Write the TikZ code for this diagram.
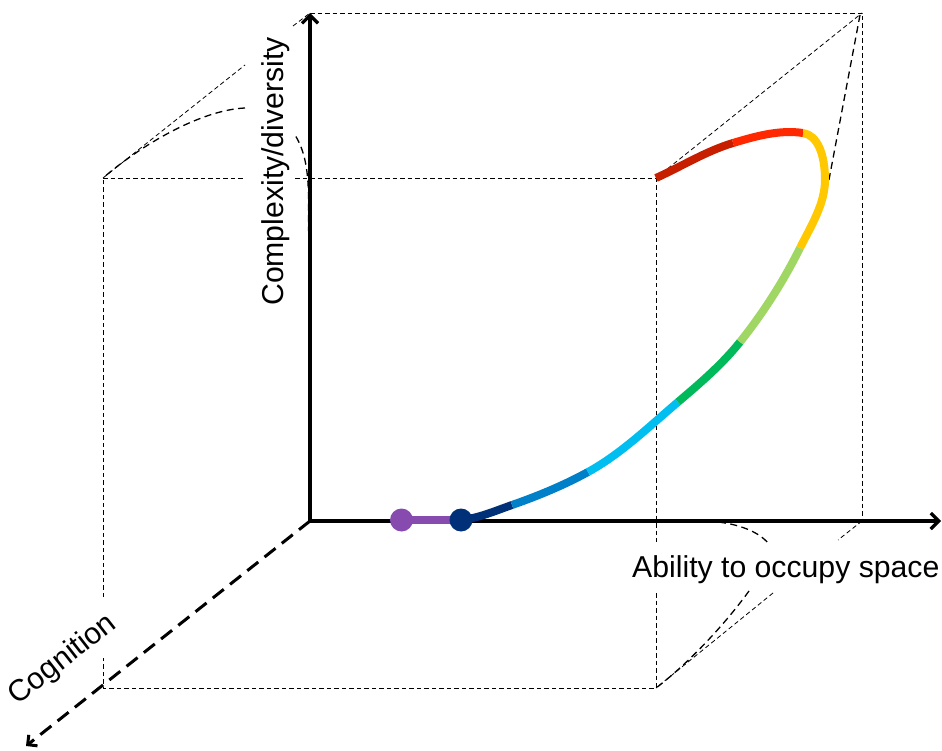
\documentclass[tikz,border=0pt]{standalone}
\usepackage{fontspec}
\setmainfont{Liberation Sans}
\usetikzlibrary{arrows.meta}
\definecolor{cnavy}{RGB}{0,48,120}
\definecolor{cblue}{RGB}{0,128,200}
\definecolor{ccyan}{RGB}{0,190,240}
\definecolor{cgreen}{RGB}{0,185,90}
\definecolor{clgreen}{RGB}{160,215,100}
\definecolor{cyellow}{RGB}{255,200,0}
\definecolor{cred}{RGB}{255,40,0}
\definecolor{cdred}{RGB}{200,30,0}
\definecolor{cpurple}{RGB}{135,75,175}
\begin{document}
\begin{tikzpicture}[x=1pt,y=-1pt,
  thindash/.style={line width=0.8pt, dash pattern=on 4.5pt off 3pt},
  curvedash/.style={line width=1.3pt, dash pattern=on 7pt off 4.5pt},
  axisline/.style={line width=3.2pt, -{Straight Barb[length=8pt,width=16pt]}},
  cogaxis/.style={line width=3pt, dash pattern=on 14pt off 8pt, -{Straight Barb[length=7pt,width=14pt]}},
  seg/.style={line width=8pt},
  dot/.style={circle, inner sep=0pt, minimum size=23pt},
  lbl/.style={font=\fontsize{30.2}{35}\selectfont, inner sep=0pt}]
\useasboundingbox (0,0) rectangle (942,751);
% corners
\coordinate (O) at (310,521);
\coordinate (T) at (310,13);
\coordinate (R) at (941,521);
\coordinate (BTR) at (862,13);
\coordinate (BBR) at (862,521);
\coordinate (FTL) at (103,178);
\coordinate (FTR) at (656,178);
\coordinate (FBL) at (103,688);
\coordinate (FBR) at (656,688);
\coordinate (CE) at (26,746);
% thin dashed box
\draw[thindash] (T) -- (BTR) -- (BBR);
\draw[thindash] (FTL) -- (245,178);
\draw[thindash] (295,178) -- (FTR);
\draw[thindash] (FTR) -- (656,542);
\draw[thindash] (656,593) -- (FBR) -- (FBL) -- (103,658);
\draw[thindash] (103,597) -- (FTL);
\draw[thindash] (FTL) -- (245,65);
\draw[thindash] (293,26) -- (T);
\draw[thindash] (FTR) -- (BTR);
\draw[thindash] (BBR) -- (838,540);
\draw[thindash] (773,593) -- (FBR);
% projected dashed curves
\draw[curvedash] (O) -- (308.5,200) .. controls (308.5,165) and (303,148) .. (295,135);
\draw[curvedash] (245,108) .. controls (200,110) and (140,146) .. (FTL);
\draw[curvedash] (860,15) -- (828,185);
\draw[curvedash] (650,521) -- (705,521) .. controls (735,522) and (758,531) .. (768,543);
\draw[curvedash] (749,591) .. controls (725,624) and (690,662) .. (FBR);
% axes
\draw[axisline] (O) -- (T);
\draw[axisline] (O) -- (R);
\draw[cogaxis] (O) -- (CE);
% main curve
\coordinate (P0) at (461,520);
\coordinate (P1) at (512,505);
\coordinate (P2) at (588,472);
\coordinate (P3) at (678,402);
\coordinate (P4) at (740,342);
\coordinate (P5) at (800,248);
\coordinate (P5m) at (825,180);
\coordinate (P6) at (803,133);
\coordinate (P7) at (733,143);
\coordinate (P8) at (656,178);
\coordinate (PP) at (401.5,520);
\draw[seg, cpurple] (PP) -- (P0);
\draw[seg, cnavy] (P0) .. controls (478.6,518.2) and (495.3,510.8) .. (P1);
\draw[seg, cblue] (P1) .. controls (538,495.9) and (563.8,485.3) .. (P2);
\draw[seg, ccyan] (P2) .. controls (621.3,453.7) and (649,426.6) .. (P3);
\draw[seg, cgreen] (P3) .. controls (699.9,383.4) and (722.1,364.4) .. (P4);
\draw[seg, clgreen] (P4) .. controls (763.2,313) and (783.4,281.3) .. (P5);
\draw[seg, cyellow] (P5) .. controls (810.7,226.5) and (825,204) .. (P5m) .. controls (825,155) and (817.8,135.2) .. (P6);
\draw[seg, cred] (P6) .. controls (779.6,129.5) and (755.6,136.2) .. (P7);
\draw[seg, cdred] (P7) .. controls (706,151.1) and (681.7,166.4) .. (P8);
\node[dot, fill=cpurple] (dp) at (PP) {};
\node[dot, fill=cnavy] (dn) at (P0) {};
% labels
\node[lbl, anchor=base west] (abil) at (632,577) {Ability to occupy space};
\node[lbl, rotate=90, anchor=base west] (cplx) at (283,306) {Complexity/diversity};
\node[lbl, rotate=38] (cog) at (63,660) {Cognition};
\end{tikzpicture}
\end{document}
